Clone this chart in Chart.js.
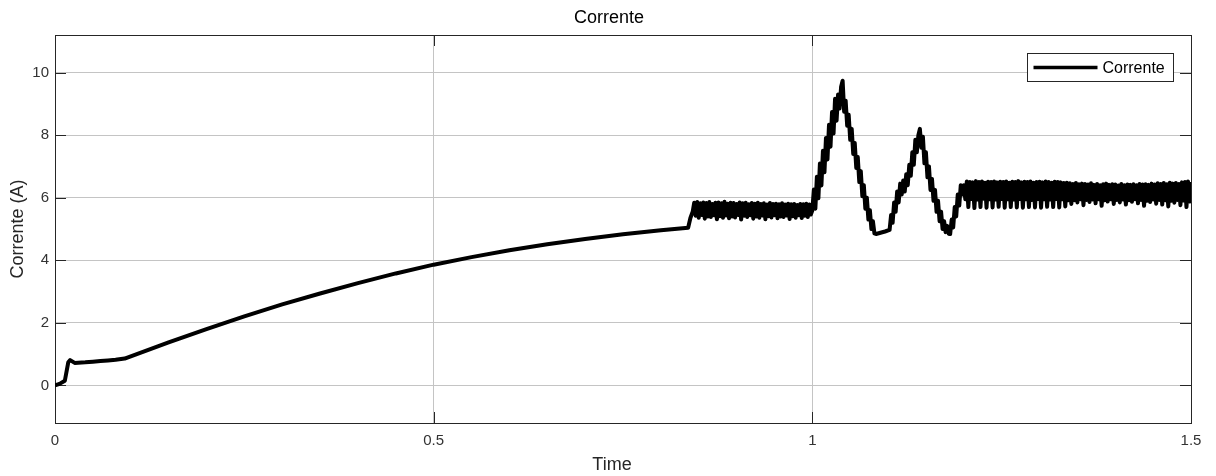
<!DOCTYPE html>
<html>
<head>
<meta charset="utf-8">
<title>Corrente</title>
<script src="https://cdn.jsdelivr.net/npm/chart.js@4.4.1/dist/chart.umd.min.js"></script>
<style>
    html, body { margin: 0; padding: 0; background: #fff; }
    #wrap { width: 1216px; height: 476px; }
</style>
</head>
<body>
<div id="wrap"><canvas id="chart" width="1216" height="476"></canvas></div>
<script>
// Tick labels
const xTicks = [0, 0.5, 1, 1.5];
const yTicks = [0, 2, 4, 6, 8, 10];

// Startup + slow rise (time in s, current in A)
const tRise = [0, 0.006, 0.013, 0.0175, 0.020, 0.026, 0.040, 0.050, 0.060, 0.070, 0.080, 0.092,
    0.150, 0.200, 0.250, 0.300, 0.350, 0.400, 0.450, 0.500, 0.550, 0.600, 0.650, 0.700,
    0.750, 0.800, 0.836, 0.839, 0.842];
const iRise = [0, 0.05, 0.15, 0.74, 0.81, 0.72, 0.74, 0.76, 0.78, 0.80, 0.82, 0.86,
    1.38, 1.80, 2.21, 2.59, 2.94, 3.27, 3.58, 3.86, 4.10, 4.32, 4.51, 4.68,
    4.83, 4.96, 5.04, 5.35, 5.55];

// First ripple band
const tBand1 = [0.844, 0.846, 0.848, 0.850, 0.852, 0.854, 0.856, 0.858, 0.860, 0.862,
    0.864, 0.866, 0.868, 0.870, 0.872, 0.874, 0.876, 0.878, 0.880, 0.882,
    0.884, 0.886, 0.888, 0.890, 0.892, 0.894, 0.896, 0.898, 0.900, 0.902,
    0.904, 0.906, 0.908, 0.910, 0.912, 0.914, 0.916, 0.918, 0.920, 0.922,
    0.924, 0.926, 0.928, 0.930, 0.932, 0.934, 0.936, 0.938, 0.940, 0.942,
    0.944, 0.946, 0.948, 0.950, 0.952, 0.954, 0.956, 0.958, 0.960, 0.962,
    0.964, 0.966, 0.968, 0.970, 0.972, 0.974, 0.976, 0.978, 0.980, 0.982,
    0.984, 0.986, 0.988, 0.990, 0.992, 0.994, 0.996, 0.998];
const iBand1 = [5.84, 5.42, 5.86, 5.36, 5.82, 5.45, 5.85, 5.33, 5.83, 5.40,
    5.86, 5.38, 5.80, 5.44, 5.84, 5.31, 5.85, 5.41, 5.82, 5.36,
    5.87, 5.43, 5.81, 5.34, 5.84, 5.40, 5.83, 5.37, 5.80, 5.45,
    5.85, 5.30, 5.82, 5.42, 5.84, 5.38, 5.79, 5.44, 5.83, 5.33,
    5.81, 5.40, 5.84, 5.36, 5.80, 5.43, 5.82, 5.31, 5.78, 5.41,
    5.83, 5.37, 5.80, 5.44, 5.81, 5.34, 5.79, 5.40, 5.82, 5.38,
    5.78, 5.43, 5.81, 5.32, 5.79, 5.41, 5.80, 5.36, 5.77, 5.44,
    5.80, 5.35, 5.79, 5.42, 5.81, 5.38, 5.78, 5.46];

// Two peaks after t = 1 s
const tPeaks = [1.000, 1.002, 1.004, 1.006, 1.008, 1.010, 1.012, 1.014, 1.016, 1.018,
    1.020, 1.022, 1.024, 1.026, 1.028, 1.030, 1.032, 1.034, 1.036, 1.038, 1.040,
    1.042, 1.044, 1.046, 1.048, 1.050, 1.052, 1.054, 1.056, 1.058, 1.060,
    1.062, 1.064, 1.066, 1.068, 1.070, 1.072, 1.074, 1.076, 1.078, 1.080, 1.082, 1.084,
    1.090, 1.096, 1.102,
    1.104, 1.106, 1.108, 1.110, 1.112, 1.114, 1.116, 1.118, 1.120, 1.122,
    1.124, 1.126, 1.128, 1.130, 1.132, 1.134, 1.136, 1.138, 1.140, 1.142,
    1.144, 1.146, 1.148, 1.150, 1.152, 1.154, 1.156, 1.158, 1.160, 1.162,
    1.164, 1.166, 1.168, 1.170, 1.172, 1.174, 1.176, 1.178, 1.180, 1.182,
    1.184, 1.186, 1.188, 1.190, 1.192, 1.194, 1.196, 1.198];
const iPeaks = [5.60, 6.26, 5.65, 6.67, 5.98, 7.09, 6.39, 7.50, 6.81, 7.91,
    7.22, 8.33, 7.63, 8.74, 8.05, 9.16, 8.46, 9.30, 8.85, 9.55, 9.74,
    8.75, 9.10, 8.30, 8.65, 7.85, 8.20, 7.40, 7.75, 6.95, 7.30,
    6.50, 6.85, 6.05, 6.40, 5.65, 6.00, 5.30, 5.60, 5.00, 5.25, 4.86, 4.84,
    4.88, 4.92, 4.97,
    5.45, 5.20, 5.85, 5.55, 6.20, 5.85, 6.45, 6.10, 6.55, 6.20,
    6.75, 6.40, 7.05, 6.70, 7.45, 7.05, 7.85, 7.45, 8.00, 8.20,
    7.60, 7.95, 7.10, 7.45, 6.65, 7.00, 6.25, 6.60, 5.90, 6.25,
    5.55, 5.90, 5.25, 5.55, 5.00, 5.25, 4.90, 5.10, 4.85, 4.84,
    5.30, 5.05, 5.70, 5.40, 6.10, 5.75, 6.40, 6.10];

// Final ripple band
const tBand2 = [1.200, 1.202, 1.204, 1.206, 1.208, 1.210, 1.212, 1.214, 1.216, 1.218,
    1.220, 1.222, 1.224, 1.226, 1.228, 1.230, 1.232, 1.234, 1.236, 1.238,
    1.240, 1.242, 1.244, 1.246, 1.248, 1.250, 1.252, 1.254, 1.256, 1.258,
    1.260, 1.262, 1.264, 1.266, 1.268, 1.270, 1.272, 1.274, 1.276, 1.278,
    1.280, 1.282, 1.284, 1.286, 1.288, 1.290, 1.292, 1.294, 1.296, 1.298,
    1.300, 1.302, 1.304, 1.306, 1.308, 1.310, 1.312, 1.314, 1.316, 1.318,
    1.320, 1.322, 1.324, 1.326, 1.328, 1.330, 1.332, 1.334, 1.336, 1.338,
    1.340, 1.342, 1.344, 1.346, 1.348, 1.350, 1.352, 1.354, 1.356, 1.358,
    1.360, 1.362, 1.364, 1.366, 1.368, 1.370, 1.372, 1.374, 1.376, 1.378,
    1.380, 1.382, 1.384, 1.386, 1.388, 1.390, 1.392, 1.394, 1.396, 1.398,
    1.400, 1.402, 1.404, 1.406, 1.408, 1.410, 1.412, 1.414, 1.416, 1.418,
    1.420, 1.422, 1.424, 1.426, 1.428, 1.430, 1.432, 1.434, 1.436, 1.438,
    1.440, 1.442, 1.444, 1.446, 1.448, 1.450, 1.452, 1.454, 1.456, 1.458,
    1.460, 1.462, 1.464, 1.466, 1.468, 1.470, 1.472, 1.474, 1.476, 1.478,
    1.480, 1.482, 1.484, 1.486, 1.488, 1.490, 1.492, 1.494, 1.496, 1.498,
    1.500];
const iBand2 = [6.40, 5.95, 6.52, 5.70, 6.50, 5.96, 6.49, 5.67, 6.53, 5.94,
    6.50, 5.70, 6.52, 5.97, 6.48, 5.68, 6.51, 5.95, 6.50, 5.69,
    6.52, 5.94, 6.49, 5.71, 6.51, 5.96, 6.50, 5.68, 6.52, 5.95,
    6.48, 5.70, 6.51, 5.94, 6.50, 5.69, 6.53, 5.96, 6.49, 5.68,
    6.51, 5.95, 6.50, 5.70, 6.52, 5.93, 6.48, 5.69, 6.50, 5.96,
    6.51, 5.68, 6.49, 5.95, 6.52, 5.71, 6.50, 5.94, 6.48, 5.70,
    6.51, 5.96, 6.50, 5.69, 6.49, 5.95, 6.47, 5.72, 6.48, 5.92,
    6.46, 5.80, 6.44, 5.92, 6.47, 5.85, 6.43, 5.95, 6.45, 5.76,
    6.44, 5.93, 6.42, 5.86, 6.46, 5.94, 6.41, 5.82, 6.44, 5.95,
    6.40, 5.74, 6.43, 5.92, 6.45, 5.88, 6.41, 5.95, 6.43, 5.80,
    6.42, 5.93, 6.39, 5.85, 6.44, 5.94, 6.40, 5.78, 6.42, 5.92,
    6.41, 5.87, 6.43, 5.95, 6.40, 5.82, 6.44, 5.93, 6.42, 5.74,
    6.43, 5.90, 6.41, 5.86, 6.45, 5.94, 6.42, 5.81, 6.46, 5.93,
    6.44, 5.78, 6.47, 5.92, 6.43, 5.72, 6.48, 5.90, 6.45, 5.84,
    6.47, 5.93, 6.44, 5.76, 6.49, 5.91, 6.50, 5.70, 6.52, 5.88,
    6.50];

const FONT = "'Liberation Sans', Arial, Helvetica, sans-serif";
const TITLE = "Corrente";
const X_LABEL = "Time";

// Join the pieces into one {x, y} series
function buildPoints() {
    const t = [...tRise, ...tBand1, ...tPeaks, ...tBand2];
    const v = [...iRise, ...iBand1, ...iPeaks, ...iBand2];
    return t.map((x, k) => ({ x: x, y: v[k] }));
}

// MATLAB-like box with inward ticks
const axesBox = {
    id: "axesBox",
    beforeDatasetsDraw(chart) {
        const ctx = chart.ctx;
        const a = chart.chartArea;
        const xs = chart.scales.x;
        const ys = chart.scales.y;
        const tl = 11;
        ctx.save();
        ctx.strokeStyle = "#262626";
        ctx.lineWidth = 1;
        ctx.beginPath();
        xTicks.forEach(v => {
            const px = Math.round(xs.getPixelForValue(v)) + 0.5;
            ctx.moveTo(px, a.bottom); ctx.lineTo(px, a.bottom - tl);
            ctx.moveTo(px, a.top); ctx.lineTo(px, a.top + tl);
        });
        yTicks.forEach(v => {
            const py = Math.round(ys.getPixelForValue(v)) + 0.5;
            ctx.moveTo(a.left, py); ctx.lineTo(a.left + tl, py);
            ctx.moveTo(a.right, py); ctx.lineTo(a.right - tl, py);
        });
        ctx.stroke();
        ctx.strokeRect(Math.round(a.left) + 0.5, Math.round(a.top) + 0.5,
            Math.round(a.right - a.left), Math.round(a.bottom - a.top));
        ctx.restore();
    }
};

// Title and x label, placed like the MATLAB figure
const figText = {
    id: "figText",
    afterDraw(chart) {
        const ctx = chart.ctx;
        ctx.save();
        ctx.textAlign = "center";
        ctx.textBaseline = "middle";
        ctx.fillStyle = "#000";
        ctx.font = "18px " + FONT;
        ctx.fillText(TITLE, 609, 18);
        ctx.fillStyle = "#262626";
        ctx.fillText(X_LABEL, 612, 465);
        ctx.restore();
    }
};

// Legend box in the upper right corner of the axes
const boxLegend = {
    id: "boxLegend",
    afterDraw(chart) {
        const ctx = chart.ctx;
        const a = chart.chartArea;
        const ds = chart.data.datasets[0];
        const w = 146, h = 28;
        const x = Math.round(a.right - 18 - w) + 0.5;
        const y = Math.round(a.top + 18) + 0.5;
        ctx.save();
        ctx.fillStyle = "#fff";
        ctx.fillRect(x, y, w, h);
        ctx.strokeStyle = "#262626";
        ctx.lineWidth = 1;
        ctx.strokeRect(x, y, w, h);
        ctx.strokeStyle = ds.borderColor;
        ctx.lineWidth = 3.5;
        ctx.beginPath();
        ctx.moveTo(x + 6, y + h / 2);
        ctx.lineTo(x + 70, y + h / 2);
        ctx.stroke();
        ctx.fillStyle = "#000";
        ctx.font = "16px " + FONT;
        ctx.textBaseline = "middle";
        ctx.fillText(ds.label, x + 75, y + h / 2 + 1);
        ctx.restore();
    }
};

const ctx = document.getElementById("chart").getContext("2d");

new Chart(ctx, {
    type: "line",
    data: {
        datasets: [{
            label: "Corrente",
            data: buildPoints(),
            borderColor: "#000",
            borderWidth: 4,
            borderJoinStyle: "round",
            pointRadius: 0,
            tension: 0,
            fill: false
        }]
    },
    options: {
        responsive: false,
        animation: false,
        devicePixelRatio: 1,
        layout: { padding: { left: 0, right: 25, top: 35, bottom: 0 } },
        plugins: {
            legend: { display: false },
            tooltip: { enabled: false },
            title: { display: false }
        },
        scales: {
            x: {
                type: "linear",
                min: 0,
                max: 1.5,
                afterBuildTicks: s => { s.ticks = xTicks.map(v => ({ value: v })); },
                afterFit: s => { s.height = 53; },
                ticks: {
                    callback: v => String(v),
                    color: "#333333",
                    font: { family: FONT, size: 15 },
                    padding: 9,
                    maxRotation: 0,
                    autoSkip: false
                },
                grid: { color: "#c4c4c4", drawTicks: false },
                border: { display: false }
            },
            y: {
                min: -1.2,
                max: 11.2,
                afterBuildTicks: s => { s.ticks = yTicks.map(v => ({ value: v })); },
                afterFit: s => { s.width = 55; },
                ticks: {
                    color: "#333333",
                    font: { family: FONT, size: 15 },
                    padding: 6
                },
                grid: { color: "#c4c4c4", drawTicks: false },
                border: { display: false },
                title: {
                    display: true,
                    text: "Corrente (A)",
                    color: "#262626",
                    font: { family: FONT, size: 18 },
                    padding: { top: 7, bottom: 0 }
                }
            }
        }
    },
    plugins: [axesBox, figText, boxLegend]
});
</script>
</body>
</html>
